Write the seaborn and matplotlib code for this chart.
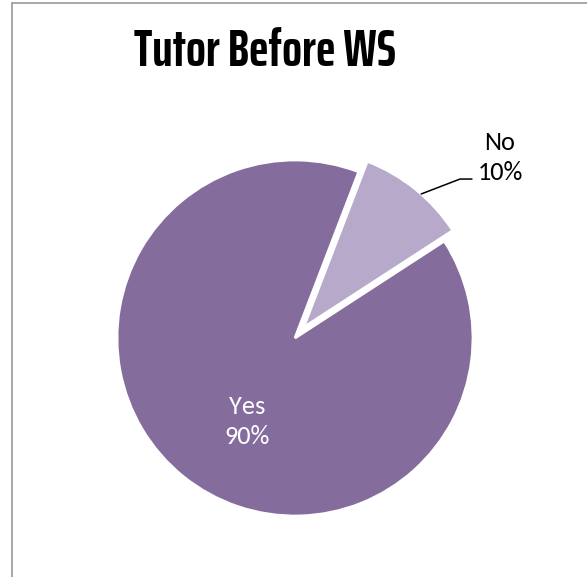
import matplotlib
matplotlib.use("Agg")
import matplotlib.pyplot as plt
from matplotlib.lines import Line2D
import numpy as np
import seaborn as sns

# Survey answers: had a tutor before the workshop?
categories = ["No", "Yes"]
shares = [10, 90]
pct_labels = ["10%", "90%"]
title = "Tutor Before WS"

sns.set_theme(style="white")
plt.rcParams["font.family"] = ["Carlito", "DejaVu Sans"]

colors = {"No": "#B7A9C9", "Yes": "#846C9D"}

W, H = 587, 577
fig = plt.figure(figsize=(W / 100, H / 100), dpi=100)
fig.patch.set_facecolor("white")

# chart area frame (left and top edges)
fig.add_artist(Line2D([12 / W, 12 / W], [0, 1 - 3 / H], color="#A0A0A0", lw=1.3,
                      transform=fig.transFigure))
fig.add_artist(Line2D([12 / W, 1.01], [1 - 3 / H, 1 - 3 / H], color="#A0A0A0", lw=1.3,
                      transform=fig.transFigure))

# pie axes: radius 1 maps to 178 px, centred at (295, 338) px
R = 178
lim = 1.2
side = 2 * lim * R
cx, cy = 295, H - 338
ax = fig.add_axes([(cx - side / 2) / W, (cy - side / 2) / H, side / W, side / H])

wedges, _ = ax.pie(
    shares,
    colors=[colors[c] for c in categories],
    startangle=69,
    counterclock=False,
    explode=[0.076, 0.0],
    radius=1.0,
    wedgeprops=dict(edgecolor="white", linewidth=2.0),
)
ax.set_xlim(-lim, lim)
ax.set_ylim(-lim, lim)
ax.set_aspect("equal")
ax.axis("off")

# Yes label inside its slice
ax.text(-0.27, -0.47, f"{categories[1]}\n{pct_labels[1]}", color="white",
        fontsize=19, ha="center", va="center", linespacing=1.35)

# No label outside with a leader line
w_no = wedges[0]
a = np.deg2rad(48.6)
start = (w_no.center[0] + np.cos(a), w_no.center[1] + np.sin(a))
ax.plot([start[0], 0.927, 0.994], [start[1], 0.893, 0.893], color="black", lw=1.1)
ax.text(1.152, 1.014, f"{categories[0]}\n{pct_labels[0]}", color="black",
        fontsize=19, ha="center", va="center", linespacing=1.35)

fig.text(265 / W, 1 - 52 / H, title, fontsize=37.5, fontweight="bold",
         family=["Saira ExtraCondensed", "DejaVu Sans"],
         ha="center", va="center", color="black")

fig.savefig("out.png", dpi=100, facecolor="white")
